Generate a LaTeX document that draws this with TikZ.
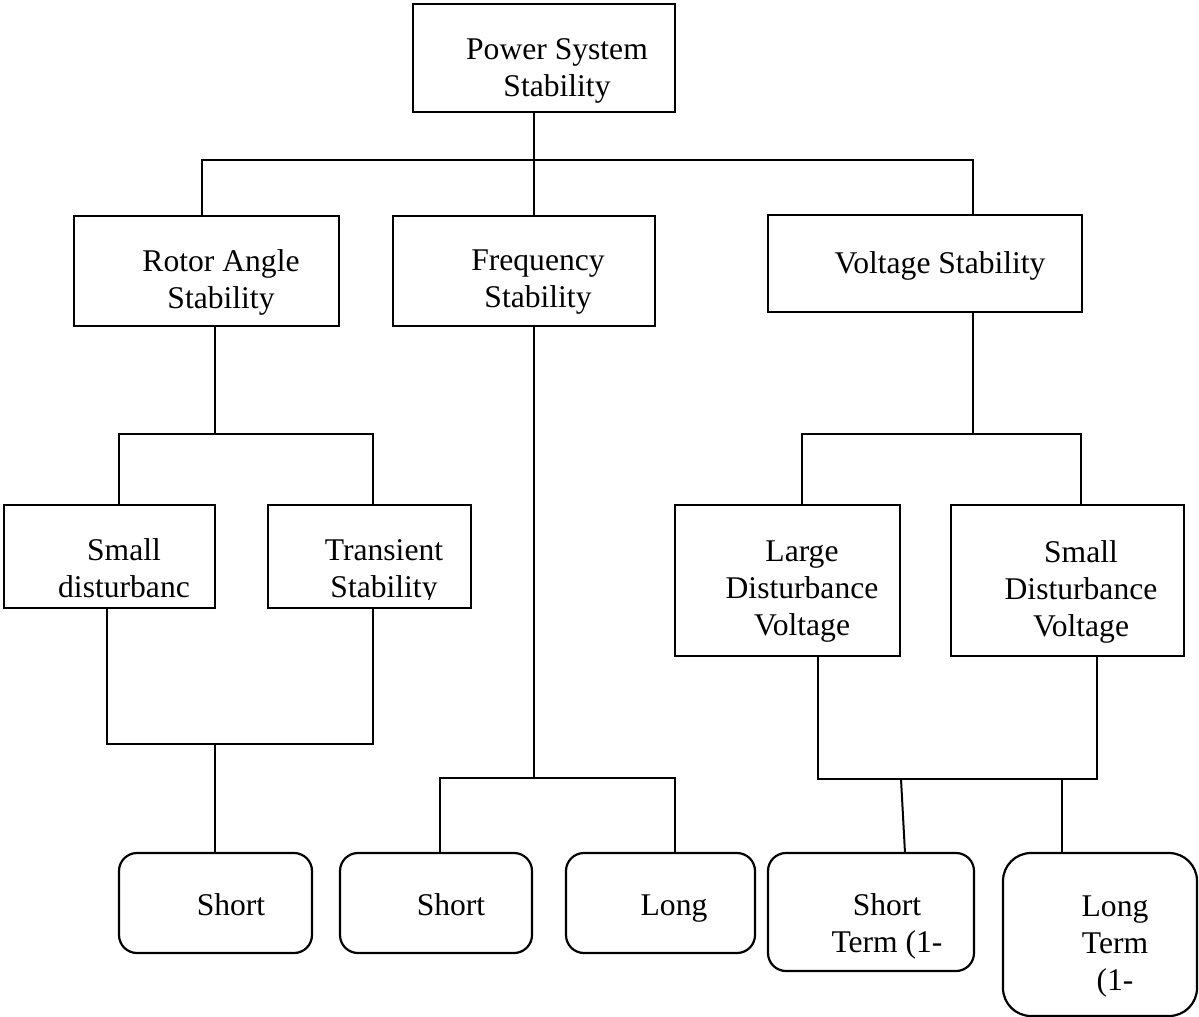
\documentclass[tikz,border=0pt]{standalone}
\usepackage{fontspec}
\setmainfont{Liberation Serif}
\usepackage{tikz}
\usetikzlibrary{positioning}
\tikzset{
  box/.style={draw,line width=1.1pt,inner sep=0pt,outer sep=0pt},
  rbox/.style={box,rounded corners=#1},
  rbox/.default=9pt,
  sz/.style 2 args={minimum width=#1*0.5pt,minimum height=#2*0.5pt},
  lbl/.style={inner sep=0pt,align=center,font=\fontsize{15.8pt}{18.5pt}\selectfont},
  ln/.style={line width=1pt}
}

\begin{document}
\begin{tikzpicture}[x=0.5pt,y=-0.5pt]
\useasboundingbox (0,0) rectangle (1199,1017);
% boxes
\node[box,sz={262}{108}] (psys) at (544,58) {};
\node[box,sz={265}{110}] (rotor) at (206.5,271) {};
\node[box,sz={262}{110}] (freq) at (524,271) {};
\node[box,sz={314}{97}] (volt) at (925,263.5) {};
\node[box,sz={211}{103}] (smalld) at (109.5,556.5) {};
\node[box,sz={203}{103}] (trans) at (369.5,556.5) {};
\node[box,sz={225}{151}] (large) at (787.5,580.5) {};
\node[box,sz={233}{151}] (smallv) at (1067.5,580.5) {};
\node[rbox,sz={193}{100}] (sht1) at (215.5,903) {};
\node[rbox,sz={192}{100}] (sht2) at (436,903) {};
\node[rbox,sz={189}{100}] (lng) at (660.5,903) {};
\node[rbox,sz={206}{118}] (stv) at (871,912) {};
\node[rbox=14pt,sz={194}{163}] (ltv) at (1100,934.5) {};
% texts
\node[lbl] (psys-t) at (557,70.5) {Power System\\Stability};
\node[lbl] (rotor-t) at (221,282.5) {Rotor Angle\\Stability};
\node[lbl] (freq-t) at (538,282.5) {Frequency\\Stability};
\node[lbl,anchor=base] (volt-t) at (940,273) {Voltage Stability};
\node[lbl] (smalld-t) at (124,568.5) {Small\\disturbanc};
\begin{scope}
\clip (268,505) rectangle (471,599);
\node[lbl] (trans-t) at (384,572) {Transient\\Stability};
\end{scope}
\node[lbl] (large-t) at (802,592) {Large\\Disturbance\\Voltage};
\node[lbl] (smallv-t) at (1081,592) {Small\\Disturbance\\Voltage};
\node[lbl,anchor=base] (sht1-t) at (231,915) {Short};
\node[lbl,anchor=base] (sht2-t) at (451,915) {Short};
\node[lbl,anchor=base] (lng-t) at (674,915) {Long};
\node[lbl] (stv-t) at (887,926) {Short\\Term (1-};
\node[lbl] (ltv-t) at (1115,947) {Long\\Term\\(1-};
% junctions
\coordinate (j0) at (534,160);
\coordinate (b0l) at (202,160);
\coordinate (b0r) at (973,160);
\coordinate (j1) at (215,434);
\coordinate (b1l) at (119,434);
\coordinate (b1r) at (373,434);
\coordinate (j2) at (215,744);
\coordinate (b2l) at (107,744);
\coordinate (b2r) at (373,744);
\coordinate (j3) at (534,778);
\coordinate (b3l) at (440,778);
\coordinate (b3r) at (675,778);
\coordinate (j4) at (973,434);
\coordinate (b4l) at (802,434);
\coordinate (b4r) at (1081,434);
\coordinate (b5l) at (818,779);
\coordinate (b5r) at (1097,779);
\coordinate (j5a) at (901,779);
\coordinate (j5b) at (905,853);
\coordinate (j5c) at (1062,779);
% connectors
\draw[ln] (psys.south -| j0) -- (j0);
\draw[ln] (rotor.north -| b0l) |- (b0r) -- (volt.north -| b0r);
\draw[ln] (j0) -- (freq.north -| j0);
\draw[ln] (rotor.south -| j1) -- (j1);
\draw[ln] (smalld.north -| b1l) |- (b1r) -- (trans.north -| b1r);
\draw[ln] (smalld.south -| b2l) |- (b2r) -- (trans.south -| b2r);
\draw[ln] (j2) -- (sht1.north -| j2);
\draw[ln] (freq.south -| j3) -- (j3);
\draw[ln] (sht2.north -| b3l) |- (b3r) -- (lng.north -| b3r);
\draw[ln] (volt.south -| j4) -- (j4);
\draw[ln] (large.north -| b4l) |- (b4r) -- (smallv.north -| b4r);
\draw[ln] (large.south -| b5l) |- (b5r) -- (smallv.south -| b5r);
\draw[ln] (j5a) -- (j5b);
\draw[ln] (j5c) -- (ltv.north -| j5c);
\end{tikzpicture}
\end{document}
